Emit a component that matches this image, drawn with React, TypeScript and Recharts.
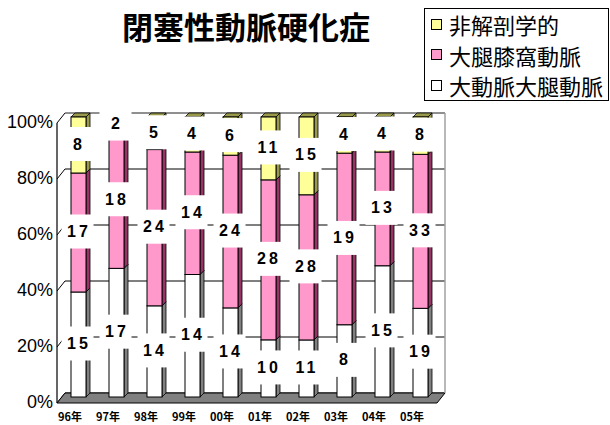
import React from 'react';
import { BarChart, Bar, XAxis, YAxis, CartesianGrid, LabelList, Legend } from 'recharts';

// ---- data ----
const categories = ['96年', '97年', '98年', '99年', '00年', '01年', '02年', '03年', '04年', '05年'];
const aortoFemoral = [15, 17, 14, 14, 14, 10, 11, 8, 15, 19];
const femoroPopliteal = [17, 18, 24, 14, 24, 28, 28, 19, 13, 33];
const extraAnatomic = [8, 2, 5, 4, 6, 11, 15, 4, 4, 8];
const yTicks = [0, 0.2, 0.4, 0.6, 0.8, 1];
const seriesNames = { af: '大動脈大腿動脈', fp: '大腿膝窩動脈', ea: '非解剖学的' };
const title = '閉塞性動脈硬化症';

const data = categories.map((year, i) => ({
  year,
  af: aortoFemoral[i],
  fp: femoroPopliteal[i],
  ea: extraAnatomic[i],
}));

// ---- styles ----
const W = 610;
const H = 425;
const MARGIN = { top: 117, right: 171, bottom: 0, left: 0 };
const YAXIS_W = 59;
const XAXIS_H = 28;
const BAR_SIZE = 15;
const DEPTH = 4;
// back wall offset and front plane offset relative to bar plane
const DX = 6, DY = -4, FX = -2, FY = 6;

const COLORS = {
  af: { front: '#FFFFFF', side: '#808080' },
  fp: { front: '#FF99CC', side: '#993366' },
  ea: { front: '#FFFF99', side: '#99994C' },
};

const make3D = (front: string, side: string) => (props: any) => {
  const { x, y, width, height } = props;
  if (x == null || y == null || !width || height == null) return <g />;
  const d = DEPTH;
  return (
    <g>
      <polygon
        points={`${x},${y} ${x + d},${y - d} ${x + width + d},${y - d} ${x + width},${y}`}
        fill={side}
        stroke="#000"
        strokeWidth={0.8}
      />
      <polygon
        points={`${x + width},${y} ${x + width + d},${y - d} ${x + width + d},${y + height - d} ${x + width},${y + height}`}
        fill={side}
        stroke="#000"
        strokeWidth={0.8}
      />
      <rect x={x} y={y} width={width} height={height} fill={front} stroke="#000" strokeWidth={1} />
    </g>
  );
};

const renderLabel = (props: any) => {
  const vb = props.viewBox || {};
  const x = props.x ?? vb.x;
  const y = props.y ?? vb.y;
  const width = props.width ?? vb.width;
  const height = props.height ?? vb.height;
  const { value } = props;
  if (x == null || y == null) return null;
  const cx = x + width / 2 - 1;
  const cy = y + height / 2 - 1;
  return (
    <g>
      <rect x={cx - 16} y={cy - 17} width={32} height={34} fill="#FFFFFF" />
      <text
        x={cx + 1.5}
        y={cy}
        textAnchor="middle"
        dominantBaseline="central"
        fontFamily="'Liberation Sans', Arial, sans-serif"
        fontWeight="bold"
        fontSize={16}
        letterSpacing={3}
        fill="#000"
      >
        {value}
      </text>
    </g>
  );
};

// back wall grid line + slanted side tick
const backLine = (props: any) => {
  const { x1, x2, y1, index } = props;
  return (
    <g key={`bl-${index}-${y1}`}>
      <line x1={x1 + FX} y1={y1 + FY} x2={x1 + DX} y2={y1 + DY} stroke="#000" strokeWidth={1} />
      <line x1={x1 + DX} y1={y1 + DY} x2={x2 + DX} y2={y1 + DY} stroke="#000" strokeWidth={1} />
    </g>
  );
};

const topEdge = (props: any) => {
  const { x1, x2, y1, index } = props;
  return (
    <g key={`te-${index}`}>
      <line x1={x1 + DX} y1={y1 + DY} x2={x2 + DX} y2={y1 + DY} stroke="#A0A0A0" strokeWidth={1.2} />
    </g>
  );
};

const floor = (props: any) => {
  const { x1, x2, y1, index } = props;
  return (
    <g key={`fl-${index}`}>
      <polygon
        points={`${x1 + FX},${y1 + FY} ${x2 + FX},${y1 + FY} ${x2 + DX},${y1 + DY} ${x1 + DX},${y1 + DY}`}
        fill="#808080"
        stroke="#000"
        strokeWidth={1}
      />
    </g>
  );
};

const leftEdge = (props: any) => {
  const { x1, y1, y2, index } = props;
  return (
    <g key={`le-${index}`}>
      <line x1={x1 + FX} y1={y1 + FY} x2={x1 + FX} y2={y2 + FY} stroke="#000" strokeWidth={1.2} />
    </g>
  );
};

const rightEdge = (props: any) => {
  const { x1, y1, y2, index } = props;
  return (
    <g key={`re-${index}`}>
      <line x1={x1 + DX} y1={y1 + DY} x2={x1 + DX} y2={y2 + DY} stroke="#A0A0A0" strokeWidth={1.5} />
    </g>
  );
};

const YTick = (props: any) => {
  const { x, y, payload } = props;
  return (
    <text
      x={x - 6}
      y={y + 5}
      textAnchor="end"
      dominantBaseline="central"
      fontFamily="'Liberation Sans', Arial, sans-serif"
      fontSize={18}
      fill="#000"
    >
      {`${Math.round(payload.value * 100)}%`}
    </text>
  );
};

const XTick = (props: any) => {
  const { x, y, payload } = props;
  return (
    <text
      x={x - 8}
      y={y + 19}
      textAnchor="middle"
      dominantBaseline="central"
      fontFamily="'Noto Sans CJK JP', sans-serif"
      fontSize={11}
      fontWeight="bold"
      fill="#000"
    >
      {payload.value}
    </text>
  );
};

const LegendBox = (props: any) => {
  const payload = [...(props.payload || [])].reverse();
  return (
    <div
      style={{
        width: 185,
        height: 93,
        border: '1px solid #000',
        boxSizing: 'border-box',
        background: '#FFFFFF',
        position: 'relative',
        fontFamily: "'Noto Sans CJK JP', sans-serif",
        fontSize: 22,
        color: '#000',
      }}
    >
      {payload.map((p: any, i: number) => (
        <div
          key={i}
          style={{
            position: 'absolute',
            left: 6,
            top: 1 + i * 30.5,
            height: 28,
            lineHeight: '28px',
            display: 'flex',
            alignItems: 'center',
            whiteSpace: 'nowrap',
          }}
        >
          <span
            style={{
              display: 'inline-block',
              width: 9,
              height: 9,
              border: '1px solid #000',
              background: p.color,
              marginRight: 7,
            }}
          />
          <span>{p.value}</span>
        </div>
      ))}
    </div>
  );
};

const keys: Array<'af' | 'fp' | 'ea'> = ['af', 'fp', 'ea'];

export default function App() {
  return (
    <div style={{ position: 'absolute', left: 0, top: 0, width: W, height: H, background: '#FFFFFF' }}>
      <div
        style={{
          position: 'absolute',
          left: 122,
          top: 10,
          fontFamily: "'Noto Sans CJK JP', sans-serif",
          fontWeight: 'bold',
          fontSize: 31,
          lineHeight: '31px',
          whiteSpace: 'nowrap',
          color: '#000',
        }}
      >
        {title}
      </div>
      <div style={{ position: 'absolute', left: 0, top: 0 }}>
        <BarChart width={W} height={H} data={data} margin={MARGIN} stackOffset="expand">
          <CartesianGrid horizontal={backLine} vertical={false} />
          <CartesianGrid
            horizontal={topEdge}
            vertical={false}
            horizontalCoordinatesGenerator={({ offset }: any) => [offset.top]}
          />
          <CartesianGrid
            horizontal={floor}
            vertical={false}
            horizontalCoordinatesGenerator={({ offset }: any) => [offset.top + offset.height]}
          />
          <CartesianGrid
            horizontal={false}
            vertical={leftEdge}
            verticalCoordinatesGenerator={({ offset }: any) => [offset.left]}
          />
          <CartesianGrid
            horizontal={false}
            vertical={rightEdge}
            verticalCoordinatesGenerator={({ offset }: any) => [offset.left + offset.width]}
          />
          <XAxis
            dataKey="year"
            height={XAXIS_H}
            axisLine={false}
            tickLine={false}
            tickSize={0}
            tickMargin={0}
            tick={<XTick />}
            interval={0}
          />
          <YAxis
            width={YAXIS_W}
            domain={[0, 1]}
            ticks={yTicks}
            axisLine={false}
            tickLine={false}
            tickSize={0}
            tickMargin={0}
            tick={<YTick />}
            interval={0}
          />
          <Legend
            layout="vertical"
            align="center"
            verticalAlign="middle"
            wrapperStyle={{ left: 424, top: 8, width: 185, height: 93 }}
            content={<LegendBox />}
          />
          {keys.map((k) => (
            <Bar
              key={k}
              dataKey={k}
              name={seriesNames[k]}
              stackId="s"
              fill={COLORS[k].front}
              barSize={BAR_SIZE}
              legendType="square"
              isAnimationActive={false}
              shape={make3D(COLORS[k].front, COLORS[k].side)}
            />
          ))}
        </BarChart>
      </div>
      <div style={{ position: 'absolute', left: 0, top: 0, pointerEvents: 'none' }}>
        <BarChart
          width={W}
          height={H}
          data={data}
          margin={{ top: MARGIN.top, right: MARGIN.right, bottom: XAXIS_H, left: YAXIS_W }}
          stackOffset="expand"
        >
          <XAxis dataKey="year" hide />
          <YAxis domain={[0, 1]} hide />
          {keys.map((k) => (
            <Bar
              key={k}
              dataKey={k}
              stackId="s"
              fill="none"
              barSize={BAR_SIZE}
              isAnimationActive={false}
            >
              <LabelList dataKey={k} content={renderLabel} />
            </Bar>
          ))}
        </BarChart>
      </div>
    </div>
  );
}
